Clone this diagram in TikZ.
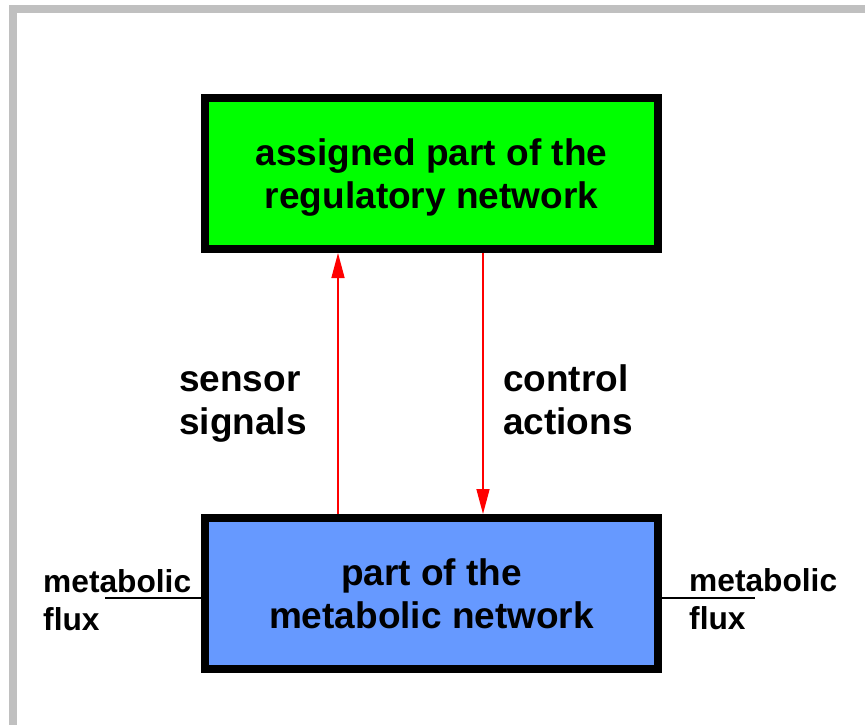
\documentclass[tikz,border=0pt]{standalone}
\usepackage{fontspec}
\setmainfont{Liberation Sans}
\usetikzlibrary{arrows.meta}
\definecolor{framegrey}{RGB}{192,192,192}
\definecolor{regGreen}{RGB}{0,255,0}
\definecolor{metBlue}{RGB}{102,153,255}
\definecolor{sigRed}{RGB}{255,0,0}
\tikzset{
  netbox/.style={draw=black, line width=8pt, minimum width=453pt, minimum height=151pt,
    inner sep=0pt},
  boxtext/.style={inner sep=0pt, align=center, font=\fontsize{37}{43}\selectfont\bfseries},
  siglabel/.style={inner sep=0pt, align=left, anchor=base west,
    font=\fontsize{37}{43}\selectfont\bfseries},
  fluxlabel/.style={inner sep=0pt, align=left, anchor=base west,
    font=\fontsize{31.7}{38}\selectfont\bfseries},
  signal/.style={draw=sigRed, line width=1.5pt, -{Triangle[length=25pt,width=13pt]}},
  fluxline/.style={draw=black, line width=1.5pt}
}
\begin{document}
\begin{tikzpicture}[x=1pt, y=-1pt]
  \useasboundingbox (0,0) rectangle (865,725);
  % grey frame along the top and left edges
  \fill[framegrey] (9,5) rectangle (865,13);
  \fill[framegrey] (9,5) rectangle (17,725);

  % the two network boxes and their titles
  \node[netbox, fill=regGreen] (reg) at (431.5,173.5) {};
  \node[boxtext] (regtext) at ([yshift=-4pt]reg.center)
    {assigned part of the\\regulatory network};
  \node[netbox, fill=metBlue] (met) at (431.5,593.5) {};
  \node[boxtext] (mettext) at (met.center)
    {part of the\\metabolic network};

  % signal paths between the boxes
  \coordinate (xs) at (338,0);
  \coordinate (xc) at (483,0);
  \draw[signal] (met.north -| xs) -- (reg.south -| xs);
  \draw[signal] (reg.south -| xc) -- (met.north -| xc);

  \node[siglabel] (sens) at (179,434) {sensor\\signals};
  \node[siglabel] (ctrl) at (503,434) {control\\actions};

  % metabolic flux in and out
  \coordinate (fin) at (105,598);
  \coordinate (fout) at (755,598);
  \draw[fluxline] (fin) -- (fin -| met.west);
  \draw[fluxline] (met.east |- fout) -- (fout);
  \node[fluxlabel] (fluxL) at (43,630) {metabolic\\flux};
  \node[fluxlabel] (fluxR) at (689,629) {metabolic\\flux};
\end{tikzpicture}
\end{document}
